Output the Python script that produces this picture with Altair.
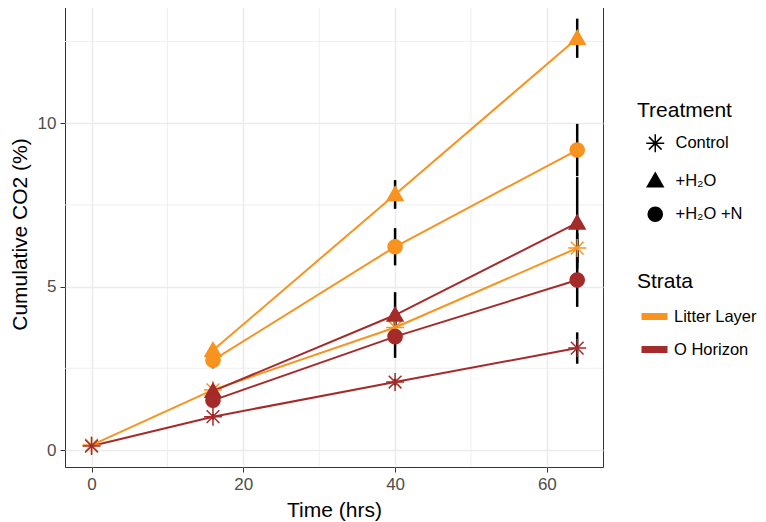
import altair as alt
import pandas as pd

# ---- data ----
times_control = [0, 16, 40, 64]
times_trt = [16, 40, 64]

litter_control = [0.15, 1.84, 3.75, 6.18]
litter_control_se = [0.05, 0.10, 0.20, 0.45]
litter_h2o = [3.05, 7.82, 12.60]
litter_h2o_se = [0.10, 0.44, 0.60]
litter_h2on = [2.75, 6.22, 9.18]
litter_h2on_se = [0.25, 0.57, 0.80]

o_control = [0.12, 1.02, 2.08, 3.12]
o_control_se = [0.03, 0.08, 0.10, 0.48]
o_h2o = [1.80, 4.13, 6.95]
o_h2o_se = [0.15, 0.70, 1.40]
o_h2on = [1.52, 3.47, 5.20]
o_h2on_se = [0.15, 0.65, 0.82]

treatments = ["Control", "+H\u2082O", "+H\u2082O +N"]
strata = ["Litter Layer", "O Horizon"]
colors = ["#F7931E", "#A52A2A"]

x_major = [0, 20, 40, 60]
x_minor = [10, 30, 50]
y_major = [0, 5, 10]
y_minor = [2.5, 7.5, 12.5]

series = [
    (strata[0], treatments[0], times_control, litter_control, litter_control_se),
    (strata[0], treatments[1], times_trt, litter_h2o, litter_h2o_se),
    (strata[0], treatments[2], times_trt, litter_h2on, litter_h2on_se),
    (strata[1], treatments[0], times_control, o_control, o_control_se),
    (strata[1], treatments[1], times_trt, o_h2o, o_h2o_se),
    (strata[1], treatments[2], times_trt, o_h2on, o_h2on_se),
]
rows = []
for s, t, ts, vs, ses in series:
    for tt, v, e in zip(ts, vs, ses):
        rows.append({"Strata": s, "Treatment": t, "time": tt, "value": v,
                     "lo": v - e, "hi": v + e})
df = pd.DataFrame(rows)

asterisk = ("M-1.27,0L1.27,0M0,-1.27L0,1.27"
            "M-0.9,-0.9L0.9,0.9M-0.9,0.9L0.9,-0.9")
triangle = "M0,-1.1L1.12,0.85L-1.12,0.85Z"

xscale = alt.Scale(domain=[-3.5, 67.4], nice=False, zero=False)
yscale = alt.Scale(domain=[-0.52, 13.74], nice=False, zero=False)
cscale = alt.Scale(domain=strata, range=colors)

X = alt.X("time:Q", scale=xscale,
          axis=alt.Axis(values=x_major, title="Time (hrs)"))
Y = alt.Y("value:Q", scale=yscale,
          axis=alt.Axis(values=y_major, title="Cumulative CO2 (%)"))

minor_v = alt.Chart(pd.DataFrame({"time": x_minor})).mark_rule(
    color="#EBEBEB", strokeWidth=0.8).encode(x=alt.X("time:Q", scale=xscale))
minor_h = alt.Chart(pd.DataFrame({"value": y_minor})).mark_rule(
    color="#EBEBEB", strokeWidth=0.8).encode(y=alt.Y("value:Q", scale=yscale))

strata_legend = alt.Legend(
    title="Strata", orient="none", legendX=572, legendY=270,
    symbolType="stroke", symbolSize=676, symbolStrokeWidth=7,
    symbolOffset=1, labelOffset=3, rowPadding=2, titlePadding=8,
)
treat_legend = alt.Legend(
    title="Treatment", orient="none", legendX=572, legendY=99,
    symbolSize=200, symbolStrokeWidth=1.5, symbolOffset=10, labelOffset=12,
    rowPadding=13.5, titlePadding=14,
    symbolStrokeColor="black", symbolFillColor="black",
)

errbars = alt.Chart(df).mark_rule(color="black", strokeWidth=2.5).encode(
    x=X, y=alt.Y("lo:Q", scale=yscale), y2="hi:Q")

lines = alt.Chart(df).mark_line(strokeWidth=2).encode(
    x=X, y=Y,
    color=alt.Color("Strata:N", scale=cscale, legend=strata_legend),
    detail="Treatment:N",
    order="time:Q",
)

points = alt.Chart(df).mark_point(filled=True, size=200, opacity=1,
                                  strokeWidth=1.5).encode(
    x=X, y=Y,
    color=alt.Color("Strata:N", scale=cscale, legend=strata_legend),
    stroke=alt.Stroke("Strata:N", scale=cscale, legend=None),
    shape=alt.Shape("Treatment:N",
                    scale=alt.Scale(domain=treatments,
                                    range=[asterisk, triangle, "circle"]),
                    legend=treat_legend),
)

chart = alt.layer(minor_v, minor_h, errbars, lines, points).properties(
    width=538, height=466,
    autosize=alt.AutoSizeParams(type="none"),
    padding={"left": 57, "top": -7, "right": 155, "bottom": 54},
    background="white",
).configure(
    font="Liberation Sans",
).configure_view(
    stroke="#333333", strokeWidth=1,
).configure_axis(
    grid=True, gridColor="#EBEBEB", gridWidth=1.5,
    domain=False, tickColor="#333333", tickSize=5, tickWidth=1,
    labelColor="#4D4D4D", labelFontSize=17, labelPadding=4,
    titleColor="black", titleFontSize=21, titleFontWeight="normal",
).configure_axisX(titlePadding=7).configure_axisY(titlePadding=7).configure_legend(
    titleFontSize=21, titleFontWeight="normal", titleColor="black",
    labelFontSize=16.5, labelColor="black", padding=0,
    symbolBaseFillColor="black", symbolBaseStrokeColor="black",
    symbolOpacity=1,
)

chart.save("out.html", embed_options={"renderer": "svg", "actions": False})
